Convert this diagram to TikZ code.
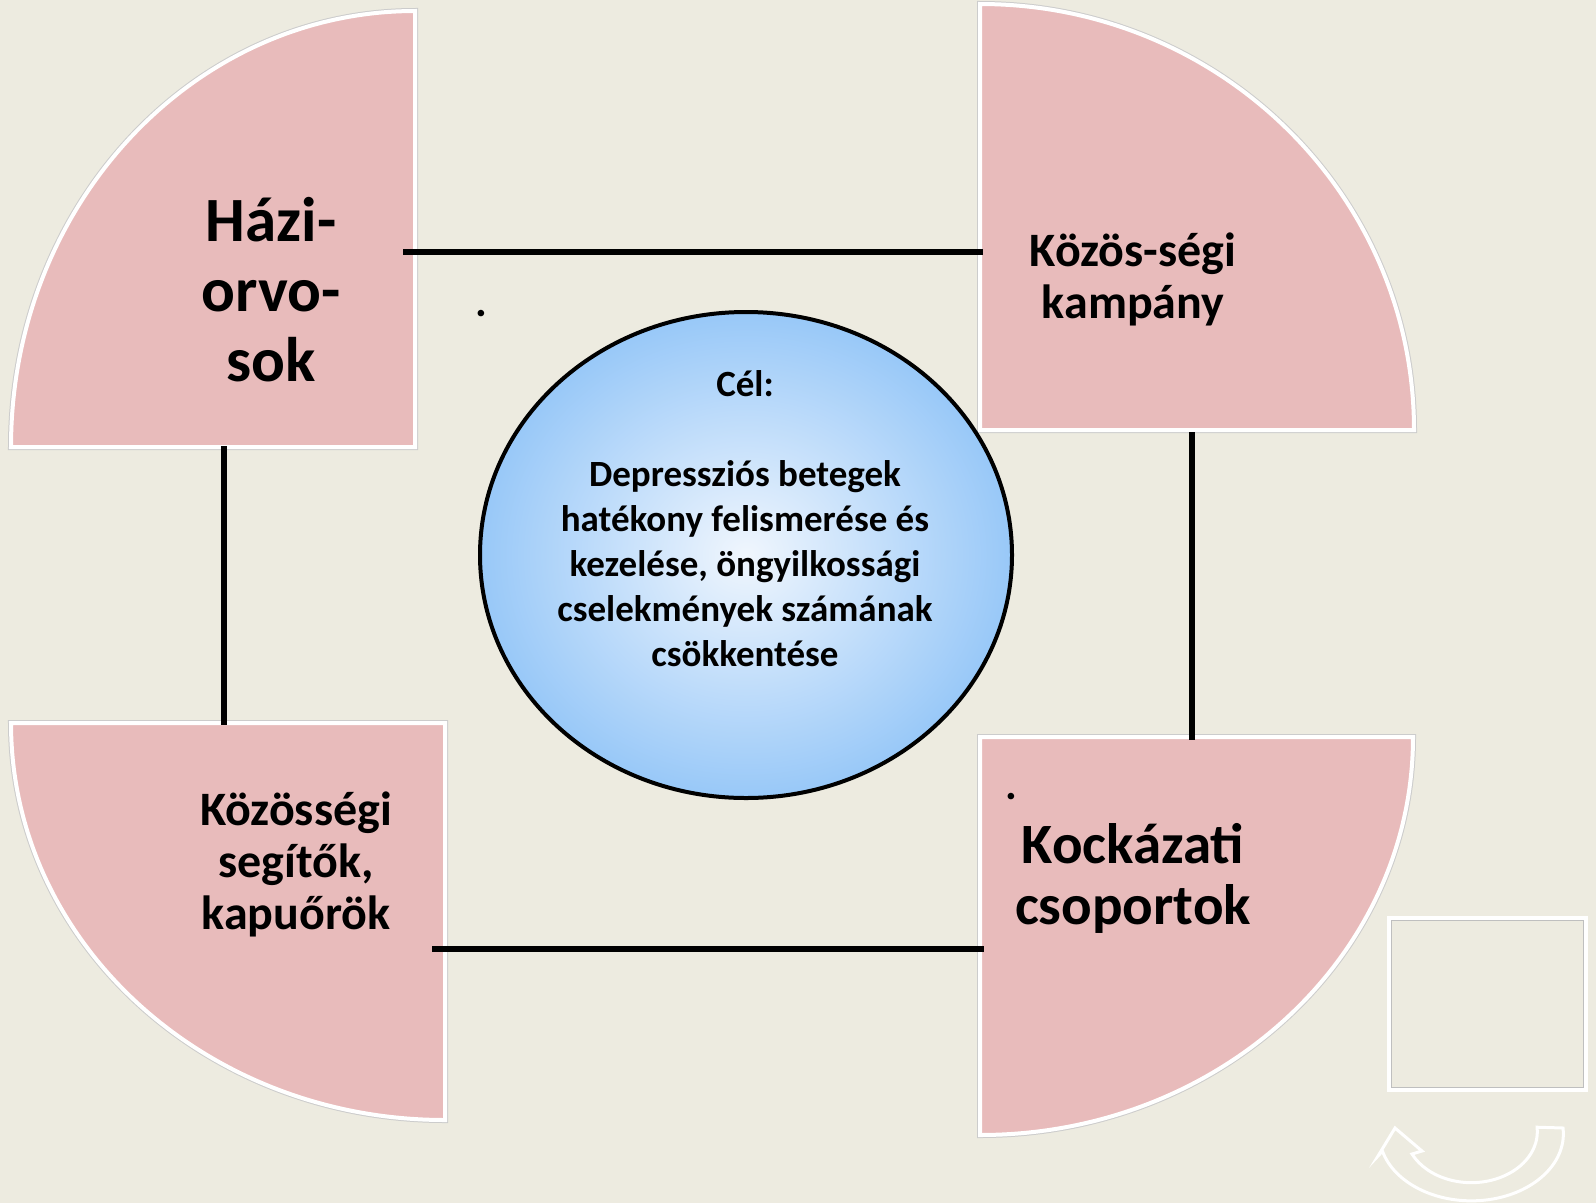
\documentclass[tikz,border=0pt]{standalone}
\usepackage{fontspec}
\setmainfont{Carlito}
\usepackage{tikz}
\usetikzlibrary{calc,shapes.geometric,backgrounds}
\definecolor{paper}{RGB}{237,235,224}
\definecolor{rose}{RGB}{232,187,187}
\definecolor{skyin}{RGB}{240,246,253}
\definecolor{skyout}{RGB}{152,200,248}
\newcommand{\quadcolor}{rose}
\newcommand{\rimcolor}{white}
\newcommand{\rim}{4pt}
\newcommand{\linkwidth}{6pt}

\begin{document}
\begin{tikzpicture}[x=1pt,y=-1pt]
\useasboundingbox (0,0) rectangle (1596,1203);
%corners of the four quarters
\coordinate (tl) at (415,447);
\coordinate (tr) at (980,430);
\coordinate (bl) at (445,723);
\coordinate (br) at (980,737);
%quarters
\begin{scope}[on background layer]
\fill[paper] (0,0) rectangle (1596,1203);
\draw[gray!40] [line width = \rim+2pt] (tl) -- ++(-404,0) arc[start angle=180, end angle=270, x radius=404, y radius=436] -- cycle;
\draw[gray!40] [line width = \rim+2pt] (tr) -- ++(0,-426) arc[start angle=270, end angle=360, x radius=434, y radius=426] -- cycle;
\draw[gray!40] [line width = \rim+2pt] (bl) -- ++(-434,0) arc[start angle=180, end angle=90, x radius=434, y radius=397] -- cycle;
\draw[gray!40] [line width = \rim+2pt] (br) -- ++(433,0) arc[start angle=0, end angle=90, x radius=433, y radius=398] -- cycle;
\filldraw[fill=\quadcolor, draw=\rimcolor] [line width = \rim] (tl) -- ++(-404,0) arc[start angle=180, end angle=270, x radius=404, y radius=436] -- cycle;
\filldraw[fill=\quadcolor, draw=\rimcolor] [line width = \rim] (tr) -- ++(0,-426) arc[start angle=270, end angle=360, x radius=434, y radius=426] -- cycle;
\filldraw[fill=\quadcolor, draw=\rimcolor] [line width = \rim] (bl) -- ++(-434,0) arc[start angle=180, end angle=90, x radius=434, y radius=397] -- cycle;
\filldraw[fill=\quadcolor, draw=\rimcolor] [line width = \rim] (br) -- ++(433,0) arc[start angle=0, end angle=90, x radius=433, y radius=398] -- cycle;
\end{scope}
%labels
\node[font=\fontsize{63}{70}\selectfont\bfseries, align=center] (haziorvos) at (271,290) {Házi-\\orvo-\\sok};
\node[font=\fontsize{48}{52}\selectfont\bfseries, align=center] (kampany) at (1133,279) {Közös-ségi\\kampány};
\node[font=\fontsize{48}{52}\selectfont\bfseries, align=center] (segitok) at (296,864) {Közösségi\\segítők,\\kapuőrök};
\node[font=\fontsize{57}{61}\selectfont\bfseries, align=center] (kockazat) at (1133,878) {Kockázati\\csoportok};
\node[font=\fontsize{44}{44}\selectfont\bfseries, inner sep=0pt] (dotA) at (481,314) {.};
\node[font=\fontsize{44}{44}\selectfont\bfseries, inner sep=0pt] (dotB) at (1011,797) {.};
%goal
\node[ellipse, draw, line width=4pt, minimum width=532pt, minimum height=486pt, inner color=skyin, outer color=skyout] (goal) at (746,555) {};
\node[font=\fontsize{37}{45}\selectfont\bfseries, align=center] (goaltext) at (745,519) {Cél:\\[45pt]Depressziós betegek\\hatékony felismerése és\\kezelése, öngyilkossági\\cselekmények számának\\csökkentése};
%links
\coordinate (tl-e) at (403,252);
\coordinate (tr-w) at (983,252);
\coordinate (tl-s) at (224,446);
\coordinate (bl-n) at (224,725);
\coordinate (tr-s) at (1192,432);
\coordinate (br-n) at (1192,740);
\coordinate (bl-e) at (432,949);
\coordinate (br-w) at (984,949);
\draw[black] [line width = \linkwidth] (tl-e) -- (tr-w);
\draw[black] [line width = \linkwidth] (tl-s) -- (bl-n);
\draw[black] [line width = \linkwidth] (tr-s) -- (br-n);
\draw[black] [line width = \linkwidth] (bl-e) -- (br-w);
%frame and turn arrow
\node[draw=white, line width=4pt, minimum width=197pt, minimum height=172pt, inner sep=0pt] (frame) at (1487.5,1004) {};
\node[draw=gray!50, line width=0.8pt, minimum width=192pt, minimum height=167pt, inner sep=0pt] (frameinner) at (frame) {};
\filldraw[fill=paper, draw=white, line width=3pt] (1563,1128) arc[start angle=-5, end angle=165, x radius=92, y radius=67] -- (1378,1156) -- (1395,1128) -- (1422,1151) -- (1412,1154) arc[start angle=154, end angle=-5, x radius=66, y radius=51] -- cycle;
\end{tikzpicture}
\end{document}
